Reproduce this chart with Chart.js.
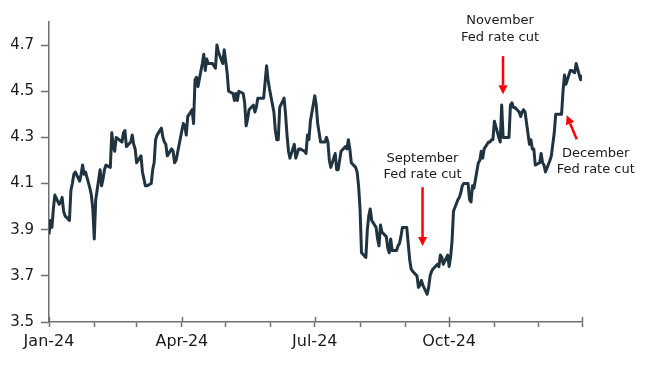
<!DOCTYPE html>
<html>
<head>
<meta charset="utf-8">
<script src="https://cdn.jsdelivr.net/npm/chart.js@4/dist/chart.umd.min.js"></script>
<style>
  html, body { margin: 0; padding: 0; background: #fff; }
  canvas { display: block; }
</style>
</head>
<body>
<canvas id="chart" width="650" height="367"></canvas>
<script>
// 10y yield, daily, 2024 (MM-DD)
const dates = [
  "01-01","01-02","01-03","01-04","01-05","01-08","01-09","01-10","01-11","01-12","01-15","01-16","01-17","01-18","01-19","01-22","01-23","01-24","01-25","01-26","01-29","01-30","01-31",
  "02-01","02-02","02-05","02-06","02-07","02-08","02-09","02-12","02-13","02-14","02-15","02-16","02-20","02-21","02-22","02-23","02-26","02-27","02-28","02-29",
  "03-01","03-04","03-05","03-06","03-07","03-08","03-11","03-12","03-13","03-14","03-15","03-18","03-19","03-20","03-21","03-22","03-25","03-26","03-27","03-28",
  "04-01","04-02","04-03","04-04","04-05","04-08","04-09","04-10","04-11","04-12","04-15","04-16","04-17","04-18","04-19","04-22","04-23","04-24","04-25","04-26","04-29","04-30",
  "05-01","05-02","05-03","05-06","05-07","05-08","05-09","05-10","05-13","05-14","05-15","05-16","05-17","05-20","05-21","05-22","05-23","05-24","05-27","05-28","05-29","05-30","05-31",
  "06-03","06-04","06-05","06-06","06-07","06-10","06-11","06-12","06-13","06-14","06-17","06-18","06-20","06-21","06-24","06-25","06-26","06-27","06-28",
  "07-01","07-02","07-03","07-05","07-08","07-09","07-10","07-11","07-12","07-15","07-16","07-17","07-18","07-19","07-22","07-23","07-24","07-25","07-26","07-29","07-30","07-31",
  "08-01","08-02","08-05","08-06","08-07","08-08","08-09","08-12","08-13","08-14","08-15","08-16","08-19","08-20","08-21","08-22","08-23","08-26","08-27","08-28","08-29","08-30",
  "09-02","09-03","09-04","09-05","09-06","09-09","09-10","09-11","09-12","09-13","09-16","09-17","09-18","09-19","09-20","09-23","09-24","09-25","09-26","09-27","09-30",
  "10-01","10-02","10-03","10-04","10-07","10-08","10-09","10-10","10-11","10-14","10-15","10-16","10-17","10-18","10-21","10-22","10-23","10-24","10-25","10-28","10-29","10-30","10-31",
  "11-01","11-04","11-05","11-06","11-07","11-08","11-11","11-12","11-13","11-14","11-15","11-18","11-19","11-20","11-21","11-22","11-25","11-26","11-27","11-28","11-29",
  "12-02","12-03","12-04","12-05","12-06","12-09","12-10","12-11","12-12","12-13","12-16","12-17","12-18","12-19","12-20","12-23","12-24","12-26","12-27","12-30","12-31"
];
const yields = [
  3.88,3.94,3.91,3.99,4.05,4.01,4.02,4.04,3.98,3.96,3.94,4.07,4.10,4.14,4.15,4.11,4.14,4.18,4.14,4.15,4.08,4.05,3.99,
  3.86,4.03,4.16,4.09,4.12,4.16,4.18,4.17,4.32,4.26,4.24,4.30,4.28,4.32,4.33,4.26,4.28,4.31,4.27,4.25,
  4.19,4.22,4.15,4.12,4.09,4.09,4.10,4.16,4.19,4.29,4.31,4.34,4.30,4.28,4.27,4.22,4.25,4.24,4.19,4.20,
  4.33,4.36,4.35,4.31,4.39,4.42,4.36,4.55,4.56,4.52,4.62,4.66,4.59,4.64,4.62,4.62,4.61,4.60,4.70,4.67,4.62,4.68,
  4.63,4.58,4.50,4.49,4.46,4.49,4.46,4.50,4.49,4.45,4.35,4.38,4.42,4.44,4.41,4.43,4.47,4.47,4.47,4.54,4.61,4.55,4.51,
  4.41,4.33,4.29,4.29,4.43,4.47,4.40,4.31,4.24,4.21,4.27,4.21,4.25,4.25,4.24,4.23,4.31,4.29,4.37,
  4.48,4.44,4.36,4.28,4.28,4.30,4.28,4.20,4.17,4.23,4.16,4.16,4.20,4.24,4.26,4.25,4.29,4.25,4.19,4.17,4.15,4.09,
  3.99,3.80,3.78,3.90,3.96,3.99,3.94,3.91,3.86,3.83,3.92,3.89,3.87,3.82,3.80,3.86,3.81,3.81,3.83,3.84,3.87,3.91,
  3.91,3.84,3.77,3.73,3.72,3.70,3.65,3.66,3.68,3.66,3.62,3.65,3.70,3.72,3.73,3.75,3.74,3.79,3.78,3.75,3.79,
  3.74,3.78,3.85,3.98,4.03,4.04,4.06,4.09,4.10,4.10,4.03,4.02,4.09,4.08,4.19,4.20,4.24,4.21,4.25,4.28,4.28,4.29,4.29,
  4.37,4.30,4.28,4.44,4.30,4.30,4.30,4.44,4.45,4.43,4.43,4.41,4.39,4.41,4.42,4.41,4.27,4.29,4.25,4.25,4.18,
  4.19,4.23,4.19,4.18,4.15,4.20,4.22,4.27,4.32,4.40,4.40,4.40,4.50,4.57,4.53,4.59,4.59,4.58,4.62,4.55,4.57
];

const yTicks = [3.5, 3.7, 3.9, 4.1, 4.3, 4.5, 4.7];
const monthTicks = ["01-01","02-01","03-01","04-01","05-01","06-01","07-01","08-01","09-01","10-01","11-01","12-01","12-31"];
const monthLabels = { "01-01": "Jan-24", "04-01": "Apr-24", "07-01": "Jul-24", "10-01": "Oct-24" };
const noteText = [
  ["September", "Fed rate cut"],
  ["November", "Fed rate cut"],
  ["December", "Fed rate cut"]
];

const dayOfYear = (md) => {
  const [m, d] = md.split("-").map(Number);
  return (Date.UTC(2024, m - 1, d) - Date.UTC(2024, 0, 1)) / 86400000;
};

const points = dates.map((d, i) => ({ x: dayOfYear(d), y: yields[i] }));
const tickDays = monthTicks.map(dayOfYear);
const labelByDay = {};
Object.keys(monthLabels).forEach(k => { labelByDay[dayOfYear(k)] = monthLabels[k]; });

const AXIS = "#6e6e6e";
const FONT = "'DejaVu Sans', Verdana, sans-serif";

// arrows in data units (day, yield), text offset in px from arrow start
const notes = [
  { from: [255.8, 4.084], to: [255.8, 3.829], text: noteText[0], tx: 0, ty: [-25, -9] },
  { from: [310.9, 4.652], to: [310.9, 4.487], text: noteText[1], tx: -3, ty: [-32, -15] },
  { from: [361.4, 4.292], to: [354.5, 4.396], text: noteText[2], tx: 19, ty: [18, 34] }
];

const annotate = {
  id: "annotate",
  afterDatasetsDraw(chart) {
    const { ctx, scales: { x, y } } = chart;
    ctx.save();
    // major ticks also cross the axis upward
    ctx.strokeStyle = AXIS;
    ctx.lineWidth = 1.5;
    const base = y.getPixelForValue(3.5);
    tickDays.forEach((d, i) => {
      if (labelByDay[d] !== undefined || i === tickDays.length - 1) {
        const px = Math.round(x.getPixelForValue(d)) + 0.5;
        ctx.beginPath();
        ctx.moveTo(px, base);
        ctx.lineTo(px, base - 5);
        ctx.stroke();
      }
    });
    notes.forEach(n => {
      const x1 = x.getPixelForValue(n.from[0]), y1 = y.getPixelForValue(n.from[1]);
      const x2 = x.getPixelForValue(n.to[0]), y2 = y.getPixelForValue(n.to[1]);
      const ang = Math.atan2(y2 - y1, x2 - x1);
      const hl = 9, hw = 4.5;
      const bx = x2 - hl * Math.cos(ang), by = y2 - hl * Math.sin(ang);
      ctx.strokeStyle = "#ff0000";
      ctx.fillStyle = "#ff0000";
      ctx.lineWidth = 2.5;
      ctx.beginPath();
      ctx.moveTo(x1, y1);
      ctx.lineTo(bx, by);
      ctx.stroke();
      ctx.beginPath();
      ctx.moveTo(x2, y2);
      ctx.lineTo(bx + hw * Math.sin(ang), by - hw * Math.cos(ang));
      ctx.lineTo(bx - hw * Math.sin(ang), by + hw * Math.cos(ang));
      ctx.closePath();
      ctx.fill();

      ctx.fillStyle = "#1a1a1a";
      ctx.font = "13px " + FONT;
      ctx.textAlign = "center";
      ctx.textBaseline = "alphabetic";
      n.text.forEach((t, i) => ctx.fillText(t, x1 + n.tx, y1 + n.ty[i]));
    });
    ctx.restore();
  }
};

new Chart("chart", {
  type: "line",
  data: {
    datasets: [{
      data: points,
      borderColor: "#1f3440",
      borderWidth: 3,
      pointRadius: 0,
      tension: 0,
      borderJoinStyle: "round"
    }]
  },
  options: {
    responsive: false,
    animation: false,
    layout: { padding: { top: 22, right: 68, left: 0, bottom: 0 } },
    plugins: { legend: { display: false }, tooltip: { enabled: false } },
    scales: {
      x: {
        type: "linear",
        min: 0,
        max: 365,
        afterBuildTicks: s => { s.ticks = tickDays.map(v => ({ value: v })); },
        afterFit: s => { s.height = 45; },
        ticks: {
          autoSkip: false,
          maxRotation: 0,
          padding: 5,
          color: "#1a1a1a",
          font: { family: FONT, size: 16 },
          callback: v => labelByDay[v] || ""
        },
        grid: { drawOnChartArea: false, tickLength: 5, color: AXIS, tickWidth: 1.5 },
        border: { color: AXIS, width: 1.5 }
      },
      y: {
        min: 3.5,
        max: 4.8,
        afterBuildTicks: s => { s.ticks = yTicks.map(v => ({ value: v })); },
        afterFit: s => { s.width = 49; },
        ticks: {
          padding: 7,
          color: "#1a1a1a",
          font: { family: FONT, size: 15 },
          callback: v => v.toFixed(1)
        },
        grid: { drawOnChartArea: false, tickLength: 8, color: AXIS, tickWidth: 1.5 },
        border: { color: AXIS, width: 1.5 }
      }
    }
  },
  plugins: [annotate]
});
</script>
</body>
</html>
